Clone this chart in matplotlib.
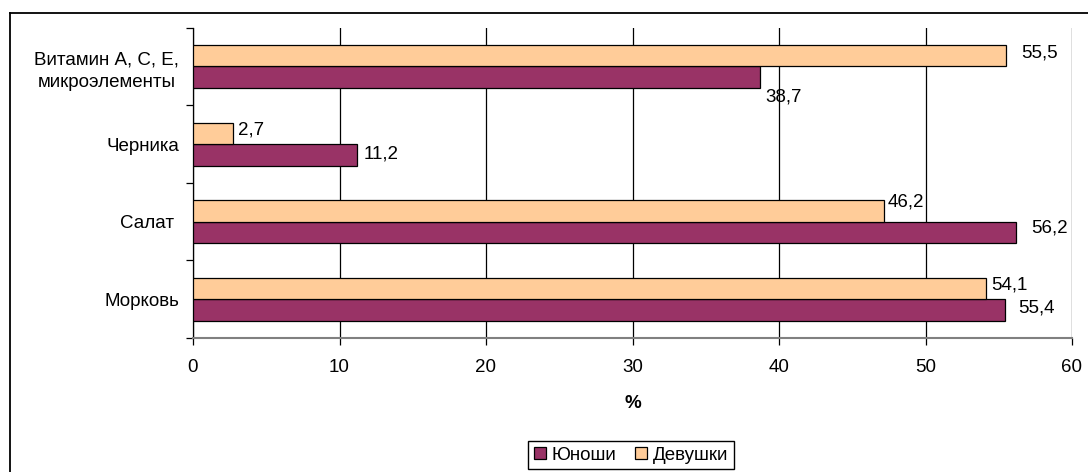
import matplotlib
matplotlib.use("Agg")
import matplotlib.pyplot as plt
from matplotlib.lines import Line2D
import numpy as np

# data
categories = ["Морковь", "Салат ", "Черника", "Витамин А, С, Е,\nмикроэлементы"]
boys = [55.4, 56.2, 11.2, 38.7]
girls = [54.1, 47.2, 2.7, 55.5]
boys_labels = ["55,4", "56,2", "11,2", "38,7"]
girls_labels = ["54,1", "46,2", "2,7", "55,5"]

# label nudges in pixels (the labels were moved by hand in the original)
boys_offsets = [(14, 2), (15, 4), (7, 1), (5, -20)]
girls_offsets = [(6, 3), (3, 9), (5, 3), (15, 3)]

plt.rcParams["font.family"] = ["Liberation Sans", "DejaVu Sans"]
plt.rcParams["font.size"] = 13.5

fig = plt.figure(figsize=(10.88, 4.72), dpi=100)
ax = fig.add_axes([193 / 1088, 1 - 338 / 472, 879 / 1088, 310.3 / 472])

y = np.arange(len(categories))
h = 0.277
bars_b = ax.barh(y - h / 2, boys, height=h, color="#993366",
                 edgecolor="black", linewidth=0.9, label="Юноши", zorder=3)
bars_g = ax.barh(y + h / 2, girls, height=h, color="#FFCC99",
                 edgecolor="black", linewidth=0.9, label="Девушки", zorder=3)

for bar, txt, (dx, dy) in zip(bars_b, boys_labels, boys_offsets):
    ax.annotate(txt, (bar.get_width(), bar.get_y() + bar.get_height() / 2),
                xytext=(dx, dy), textcoords="offset pixels",
                ha="left", va="center")
for bar, txt, (dx, dy) in zip(bars_g, girls_labels, girls_offsets):
    ax.annotate(txt, (bar.get_width(), bar.get_y() + bar.get_height() / 2),
                xytext=(dx, dy), textcoords="offset pixels",
                ha="left", va="center")

ax.set_xlim(0, 60)
ax.set_ylim(-0.5, len(categories) - 0.5)
ax.set_xticks(np.arange(0, 61, 10))
ax.xaxis.grid(True, color="black", linewidth=0.9, zorder=0)
ax.set_axisbelow(True)

ax.set_yticks(y)
ax.set_yticklabels(categories, multialignment="center")
for lbl in ax.get_yticklabels():
    lbl.set_linespacing(1.45)
ax.set_yticks(np.arange(-0.5, len(categories), 1), minor=True)
ax.tick_params(axis="y", which="major", length=0, pad=10)
ax.tick_params(axis="y", which="minor", length=5, width=0.9, color="black")
ax.tick_params(axis="x", length=5, width=0.9, pad=10)

ax.spines["top"].set_visible(False)
ax.spines["right"].set_visible(False)
ax.spines["left"].set_color("black")
ax.spines["left"].set_linewidth(0.9)
ax.spines["bottom"].set_color("#808080")
ax.spines["bottom"].set_linewidth(1.5)

ax.set_xlabel("%", fontweight="bold", labelpad=14)

handles = [bars_b, bars_g]
fig.legend(handles, ["Юноши", "Девушки"], loc="center",
           bbox_to_anchor=(631 / 1088, 1 - 455 / 472), ncol=2,
           frameon=True, fancybox=False, edgecolor="black", framealpha=1,
           handlelength=0.65, handleheight=0.65, handletextpad=0.3,
           columnspacing=1.0, borderpad=0.3)

# outer chart frame
fig.add_artist(Line2D([10 / 1088, 1], [1 - 13 / 472, 1 - 13 / 472],
                      color="black", linewidth=1.3, transform=fig.transFigure))
fig.add_artist(Line2D([10 / 1088, 10 / 1088], [0, 1 - 13 / 472],
                      color="black", linewidth=1.3, transform=fig.transFigure))

fig.savefig("out.png", dpi=100)
